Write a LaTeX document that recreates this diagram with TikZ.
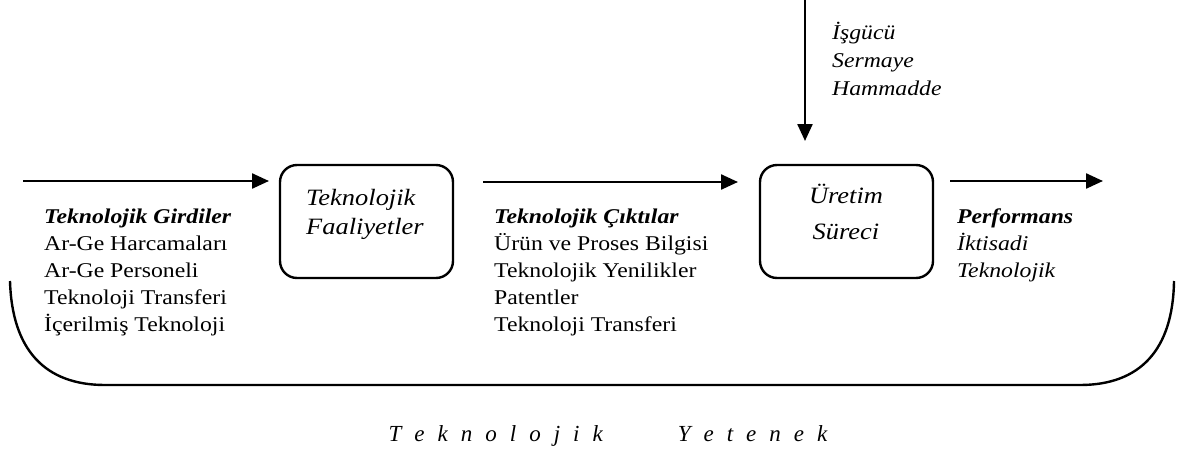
\documentclass[tikz,border=0pt]{standalone}
\usepackage{fontspec}
\setmainfont{Liberation Serif}
\newfontfamily\widefont{Liberation Serif}[FakeStretch=1.13]
\usetikzlibrary{arrows.meta}
\newcommand\ls{\kern13pt}
\begin{document}
\begin{tikzpicture}[x=1pt,y=-1pt,
  thick line/.style={line width=2.4pt},
  flow/.style={line width=2.4pt,-{Triangle[length=17pt,width=15pt]}},
  stage/.style={draw,line width=2.4pt,rounded corners=17pt,
    minimum width=173pt,minimum height=113pt,inner sep=0pt},
  txt/.style={inner sep=0pt,anchor=base west,font=\widefont\fontsize{21}{25}\selectfont},
  head/.style={txt,font=\widefont\fontsize{21}{25}\selectfont\bfseries\itshape},
  itxt/.style={txt,font=\widefont\fontsize{21}{25}\selectfont\itshape},
  boxone/.style={inner sep=0pt,anchor=base west,font=\widefont\fontsize{23.4}{27}\selectfont\itshape},
  boxtwo/.style={boxone,anchor=base},
]
\useasboundingbox (0,0) rectangle (1187,453);

% process stages
\node[stage] (act) at (366.5,221.5) {};
\node[stage] (prod) at (846.5,221.5) {};

\node[boxone] (act1) at (306,205) {Teknolojik};
\node[boxone] (act2) at (306,234) {Faaliyetler};
\node[boxtwo] (prod1) at (846,203) {Üretim};
\node[boxtwo] (prod2) at (846,239) {Süreci};

% flow arrows
\coordinate (f1s) at (23,181);  \coordinate (f1e) at (269,181);
\coordinate (f2s) at (483,182); \coordinate (f2e) at (738,182);
\coordinate (f3s) at (950,181); \coordinate (f3e) at (1103,181);
\coordinate (ds) at (805,0);    \coordinate (de) at (805,141);
\draw[flow] (f1s) -- (f1e);
\draw[flow] (f2s) -- (f2e);
\draw[flow] (f3s) -- (f3e);
\draw[flow] (ds) -- (de);

% production inputs
\node[itxt] (in1) at (832,39) {İşgücü};
\node[itxt] (in2) at (832,67) {Sermaye};
\node[itxt] (in3) at (832,95) {Hammadde};

% technological inputs
\node[head] (g0) at (44,223) {Teknolojik Girdiler};
\node[txt] (g1) at (44,250) {Ar-Ge Harcamaları};
\node[txt] (g2) at (44,277) {Ar-Ge Personeli};
\node[txt] (g3) at (44,304) {Teknoloji Transferi};
\node[txt] (g4) at (44,331) {İçerilmiş Teknoloji};

% technological outputs
\node[head] (c0) at (494,223) {Teknolojik Çıktılar};
\node[txt] (c1) at (494,250) {Ürün ve Proses Bilgisi};
\node[txt] (c2) at (494,277) {Teknolojik Yenilikler};
\node[txt] (c3) at (494,304) {Patentler};
\node[txt] (c4) at (494,331) {Teknoloji Transferi};

% performance
\node[head] (p0) at (957,223) {Performans};
\node[itxt] (p1) at (957,250) {İktisadi};
\node[itxt] (p2) at (957,277) {Teknolojik};

% capability bracket
\coordinate (bl) at (10,281);
\coordinate (br) at (1174,281);
\draw[thick line] (bl) .. controls (12,350) and (45,385) .. (105,385)
  -- (1080,385) .. controls (1140,385) and (1173,350) .. (br);

\node[inner sep=0pt,anchor=base,font=\fontsize{23}{27}\selectfont\itshape] (cap) at (608,441)
  {T\ls e\ls k\ls n\ls o\ls l\ls o\ls j\ls i\ls k\kern75pt Y\ls e\ls t\ls e\ls n\ls e\ls k};
\end{tikzpicture}
\end{document}
